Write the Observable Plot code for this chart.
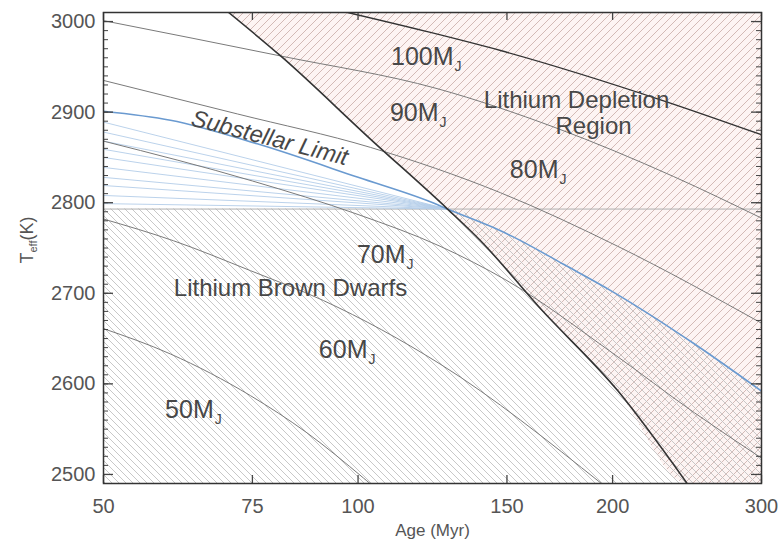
<!DOCTYPE html>
<html><head><meta charset="utf-8">
<script src="https://cdn.jsdelivr.net/npm/d3@7"></script>
<script src="https://cdn.jsdelivr.net/npm/@observablehq/plot@0.6"></script>
<style>html,body{margin:0;padding:0;background:#fff} svg{display:block}</style>
</head><body><div id="chart"></div>
<script>
// ---- axis ticks ----
const xTicks = [50, 75, 100, 150, 200, 300];
const yTicks = [2500, 2600, 2700, 2800, 2900, 3000];
const yMinorTicks = d3.range(2490, 3011, 10);

// ---- curves (age in Myr, Teff in K) ----
const substellarAge = [50, 60, 76, 100, 124, 127.6, 147.4, 152.8, 175, 199, 250, 300];
const substellarT   = [2901, 2891, 2865, 2828, 2798, 2793, 2769, 2762, 2732, 2703, 2644, 2592];

const m100Age = [97.2, 121.8, 147.4, 229.8, 300];
const m100T   = [3010, 2988, 2968, 2912.5, 2875];
const m90Age  = [50, 81, 124, 171, 236, 300];
const m90T    = [3001, 2962, 2926, 2883, 2829, 2783];
const m80Age  = [50, 72, 103.5, 147.4, 202.7, 300];
const m80T    = [2935, 2898, 2861, 2811, 2752, 2667];
const m70Age  = [50, 75, 100, 125, 150, 200, 250, 300];
const m70T    = [2868, 2824, 2787, 2752, 2714, 2634, 2568, 2518];
const m60Age  = [50, 60.5, 74.6, 91, 125, 194];
const m60T    = [2782, 2758, 2725, 2692, 2622, 2490];
const m50Age  = [50, 60, 74.6, 87, 101.5, 103.3];
const m50T    = [2661, 2633, 2587, 2546, 2496, 2490];

// lithium depletion boundary
const ldbAge = [70.3, 81, 103.5, 127.6, 139.6, 164, 203, 245];
const ldbT   = [3010, 2962, 2870, 2793, 2758, 2684, 2592, 2490];

// lithium brown dwarf upper limit
const liLimitT = 2793;
const apexAge = 127.6;

// blue fan lines (start Teff at 50 Myr, all meet at the apex)
const fanStartT = [2889, 2878, 2868, 2859, 2850, 2839, 2828, 2819, 2808, 2799];

// labels
const massLabels = ["100M", "90M", "80M", "70M", "60M", "50M"];
const massLabelAge = [129.7, 124.5, 172.6, 113.8, 102.6, 67.5];
const massLabelT = [2952, 2890.5, 2827.5, 2733.7, 2628.9, 2562.6];

const regionLabels = ["Lithium Depletion", "Region", "Lithium Brown Dwarfs"];
const regionLabelAge = [181.3, 189.9, 83.2];
const regionLabelT = [2904.8, 2876, 2697.3];

// ---- build tables ----
const zip = (ages, ts, extra = {}) => ages.map((age, i) => ({age, T: ts[i], ...extra}));
const substellar = zip(substellarAge, substellarT);
const track100 = zip(m100Age, m100T);
const tracks = [
  ...zip(m90Age, m90T, {mass: 90}),
  ...zip(m80Age, m80T, {mass: 80}),
  ...zip(m70Age, m70T, {mass: 70}),
  ...zip(m60Age, m60T, {mass: 60}),
  ...zip(m50Age, m50T, {mass: 50})
];
const ldb = zip(ldbAge, ldbT);
const pinkRegion = [...ldb, {age: 300, T: 2490}];
const brownTop = [{age: 50, T: liLimitT}, {age: apexAge, T: liLimitT},
  ...substellar.filter(d => d.age > apexAge)];
const fanData = fanStartT.flatMap((t, i) => [{id: i, age: 50, T: t}, {id: i, age: apexAge, T: liLimitT}]);
const massLabelData = massLabels.map((label, i) => ({label, age: massLabelAge[i], T: massLabelT[i]}));
const regionLabelData = regionLabels.map((label, i) => ({label, age: regionLabelAge[i], T: regionLabelT[i]}));

const labelFont = "'Liberation Sans', Arial, sans-serif";
const W = 783 - 103 - 22, H = 543 - 12 - 60;
const tickCol = "#444";
const txtCol = "#474747";

const svg = Plot.plot({
  width: 783, height: 543,
  marginLeft: 103, marginRight: 22, marginTop: 12, marginBottom: 60,
  style: {fontFamily: "'Liberation Sans', Arial, sans-serif", color: "#555", background: "#fff"},
  x: {type: "log", domain: [50, 300], axis: null},
  y: {domain: [2490, 3010], axis: null},
  marks: [
    Plot.areaY(pinkRegion, {x: "age", y1: "T", y2: 3010, fill: "#fdf4f3", curve: "monotone-x", clip: true}),
    Plot.areaY(pinkRegion, {x: "age", y1: "T", y2: 3010, fill: "url(#hatchPink)", curve: "monotone-x", clip: true}),
    Plot.areaY(brownTop, {x: "age", y1: 2490, y2: "T", fill: "url(#hatchGray)", curve: "monotone-x", clip: true}),
    Plot.ruleY([liLimitT], {stroke: "#b0b0b0", strokeWidth: 1}),
    Plot.line(fanData, {x: "age", y: "T", z: "id", stroke: "#b3cde9", strokeWidth: 0.9}),
    Plot.line(tracks, {x: "age", y: "T", z: "mass", stroke: "#7a7a7a", strokeWidth: 1, curve: "monotone-x", clip: true}),
    Plot.line(track100, {x: "age", y: "T", stroke: "#333", strokeWidth: 1.4, curve: "monotone-x", clip: true}),
    Plot.line(substellar, {x: "age", y: "T", stroke: "#6a9ad0", strokeWidth: 1.6, curve: "monotone-x", clip: true}),
    Plot.line(ldb, {x: "age", y: "T", stroke: "#333", strokeWidth: 1.6, curve: "monotone-x", clip: true}),
    // labels
    Plot.text(massLabelData, {x: "age", y: "T", text: "label", textAnchor: "end", lineAnchor: "bottom",
      fontSize: 25, fontFamily: labelFont, fill: txtCol}),
    Plot.text(massLabelData, {x: "age", y: "T", text: () => "J", textAnchor: "start", lineAnchor: "bottom",
      dx: 1, dy: 6, fontSize: 14, fontFamily: labelFont, fill: txtCol}),
    Plot.text(regionLabelData, {x: "age", y: "T", text: "label", textAnchor: "middle", lineAnchor: "bottom",
      fontSize: 24, fontFamily: labelFont, fill: txtCol}),
    Plot.text([{label: "Substellar Limit", age: 78.2, T: 2863.4}], {x: "age", y: "T", text: "label",
      textAnchor: "middle", lineAnchor: "bottom", rotate: 14.5, fontSize: 23.5, fontStyle: "italic",
      fontFamily: labelFont, fill: txtCol}),
    // inward ticks
    Plot.tickY(yTicks, {y: d => d, insetRight: W - 10, stroke: tickCol, strokeWidth: 1.3}),
    Plot.tickY(yMinorTicks, {y: d => d, insetRight: W - 5, stroke: tickCol}),
    Plot.tickY(yTicks, {y: d => d, insetLeft: W - 10, stroke: tickCol, strokeWidth: 1.3}),
    Plot.tickY(yMinorTicks, {y: d => d, insetLeft: W - 5, stroke: tickCol}),
    Plot.tickX(xTicks, {x: d => d, insetTop: H - 8, stroke: tickCol, strokeWidth: 1.3}),
    Plot.tickX(xTicks, {x: d => d, insetBottom: H - 8, stroke: tickCol, strokeWidth: 1.3}),
    // tick labels
    Plot.axisY(yTicks, {anchor: "left", tickSize: 0, tickPadding: 8, fontSize: 20, label: null,
      tickFormat: d => String(d), fill: "#555"}),
    Plot.axisX(xTicks, {anchor: "bottom", tickSize: 0, tickPadding: 15, fontSize: 20, label: null,
      tickFormat: d => String(d), fill: "#555"}),
    Plot.text(["Age (Myr)"], {frameAnchor: "bottom", text: d => d, dy: 52, lineAnchor: "bottom",
      fontSize: 17, fill: "#555"}),
    Plot.frame({stroke: "#333", strokeWidth: 1.5})
  ]
});

// hatch patterns
const defs = d3.select(svg).insert("defs", ":first-child");
const pg = defs.append("pattern").attr("id", "hatchGray").attr("patternUnits", "userSpaceOnUse")
  .attr("width", 7).attr("height", 7);
pg.append("path").attr("d", "M0,0L7,7M-1,6L1,8M6,-1L8,1").attr("stroke", "#c2c2c2").attr("stroke-width", 0.9).attr("fill", "none");
const pp = defs.append("pattern").attr("id", "hatchPink").attr("patternUnits", "userSpaceOnUse")
  .attr("width", 8).attr("height", 8);
pp.append("path").attr("d", "M0,8L8,0M-1,1L1,-1M7,9L9,7").attr("stroke", "#ceb3af").attr("stroke-width", 0.9).attr("fill", "none");

// y-axis title with subscript
const yt = d3.select(svg).append("text")
  .attr("transform", "translate(33,240) rotate(-90)")
  .attr("text-anchor", "middle").attr("fill", "#555")
  .attr("font-family", "'Liberation Sans', Arial, sans-serif").attr("font-size", 18);
yt.append("tspan").text("T");
yt.append("tspan").attr("font-size", 11).attr("dy", 4).text("eff");
yt.append("tspan").attr("dy", -4).text("(K)");

document.getElementById("chart").append(svg);
</script>
</body></html>
